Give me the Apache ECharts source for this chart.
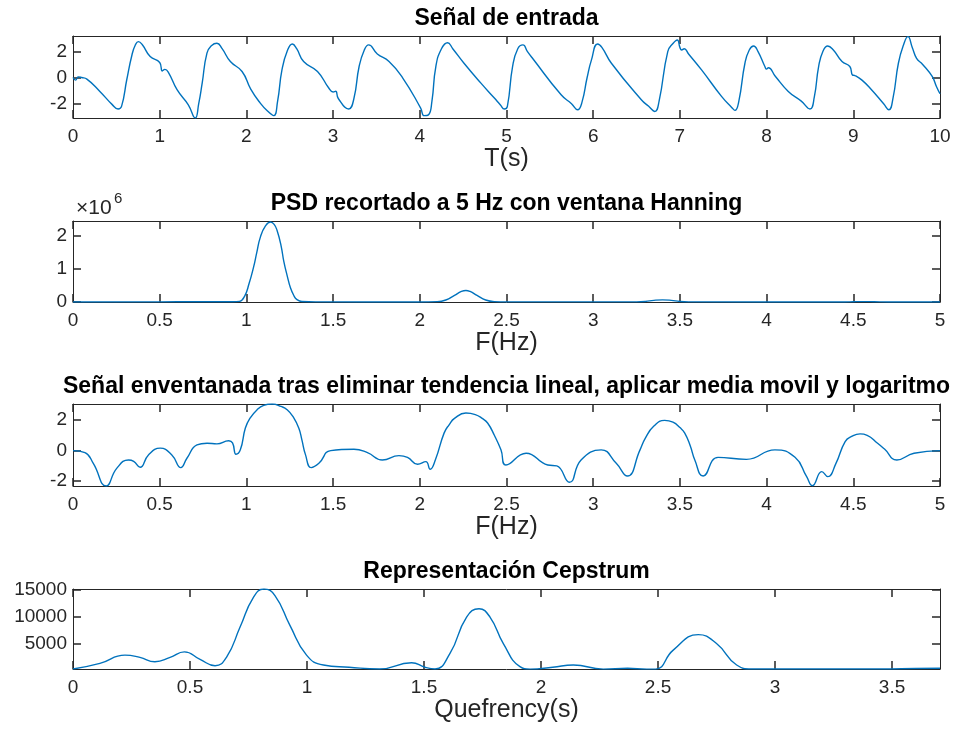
<!DOCTYPE html>
<html>
<head>
<meta charset="utf-8">
<script src="https://cdn.jsdelivr.net/npm/echarts@6/dist/echarts.min.js"></script>
<style>html,body{margin:0;padding:0;background:#fff;}#c{width:962px;height:735px;}</style>
</head>
<body>
<div id="c"></div>
<script>
// ---- Panel 1: Señal de entrada (t in s, amplitude)
const t1 = [0,0.03,0.06,0.1,0.16,0.31,0.45,0.52,0.56,0.62,0.68,0.72,0.755,0.8,0.89,1.0,1.03,1.06,1.1,1.2,1.33,1.41,1.45,1.49,1.545,1.6,1.66,1.72,1.815,1.95,2.05,2.16,2.25,2.315,2.36,2.41,2.47,2.53,2.58,2.66,2.82,2.95,3.0,3.03,3.06,3.18,3.24,3.30,3.36,3.41,3.51,3.645,3.8,4.01,4.05,4.1,4.14,4.185,4.25,4.32,4.38,4.51,4.705,4.86,4.93,4.975,5.01,5.07,5.13,5.19,5.24,5.30,5.63,5.75,5.82,5.87,5.93,5.98,6.05,6.1,6.21,6.555,6.64,6.71,6.76,6.86,6.92,6.97,7.0,7.02,7.05,7.1,7.25,7.48,7.6,7.635,7.68,7.75,7.8,7.85,7.9,7.98,8.0,8.02,8.1,8.25,8.4,8.5,8.55,8.6,8.65,8.705,8.77,8.87,8.96,8.99,9.02,9.1,9.21,9.35,9.41,9.46,9.52,9.58,9.63,9.68,9.73,9.8,9.91,9.96,10];
const s1 = [0,-0.2,0.05,0,-0.12,-1.06,-2.05,-2.4,-2.2,-0.17,1.72,2.5,2.74,2.5,1.6,1.15,0.5,0.62,0.4,-0.93,-2.08,-3.09,-2.0,-0.43,1.86,2.45,2.62,2.2,1.22,0.46,-0.88,-1.95,-2.6,-2.91,-1.8,0.58,2.0,2.56,2.2,1.22,0.46,-0.8,-1.1,-1.05,-1.6,-2.4,-1.6,0.84,2.1,2.49,1.8,1.22,0,-2.33,-2.91,-2.85,-1.8,0.84,2.2,2.66,2.2,1.09,-0.43,-1.57,-2.1,-2.4,-2.2,0.84,2.2,2.49,2.0,1.47,-1.32,-2.0,-2.46,-1.9,0,1.35,2.56,2.3,1.09,-1.7,-2.2,-2.59,-1.8,1.98,2.6,2.87,2.3,2.1,2.2,1.8,0.58,-1.44,-2.3,-2.51,-1.8,1.09,2.1,2.41,2.0,0.84,0.64,0.75,0.1,-1.06,-1.8,-2.4,-1.5,0.84,2.0,2.41,2.1,1.22,0.84,0.2,0.15,-0.2,-0.93,-2.0,-2.46,-1.5,1.09,2.5,3.12,2.3,1.47,1.0,0.08,-0.7,-1.24];
const ticksX1 = [0,1,2,3,4,5,6,7,8,9,10];
const ticksY1 = [-2,0,2];

// ---- Panel 2: PSD (F in Hz)
const f2 = [0,0.5,0.7,0.85,0.92,0.96,0.99,1.015,1.042,1.06,1.081,1.11,1.139,1.16,1.177,1.2,1.216,1.235,1.254,1.275,1.29,1.32,1.4,2.0,2.1,2.15,2.2,2.24,2.266,2.29,2.33,2.38,2.43,2.5,3.25,3.3,3.35,3.4,3.45,3.5,3.55,4.45,4.5,4.56,4.62,4.7,5];
const psd2 = [2e3,4e3,8e3,1e4,8e3,2e4,1.8e5,5.5e5,1.07e6,1.5e6,1.97e6,2.3e6,2.42e6,2.35e6,2.16e6,1.7e6,1.22e6,8e5,4.3e5,1.8e5,8e4,1.5e4,3e3,2e3,1e4,6e4,2e5,3.2e5,3.5e5,3.2e5,2e5,6e4,1e4,3e3,3e3,1.5e4,5e4,6.5e4,5e4,1.5e4,3e3,2e3,8e3,1.2e4,8e3,2e3,2e3];
const ticksX2 = [0,0.5,1,1.5,2,2.5,3,3.5,4,4.5,5];
const ticksY2 = [0,1e6,2e6];

// ---- Panel 3: Señal enventanada (F in Hz)
const f3 = [0,0.069,0.117,0.191,0.252,0.32,0.35,0.387,0.435,0.503,0.57,0.622,0.657,0.715,0.773,0.83,0.898,0.92,0.94,0.965,0.994,1.02,1.062,1.1,1.148,1.2,1.235,1.27,1.302,1.32,1.341,1.374,1.418,1.486,1.62,1.698,1.784,1.88,1.929,1.987,2.035,2.06,2.09,2.14,2.17,2.2,2.266,2.32,2.36,2.391,2.43,2.468,2.497,2.613,2.738,2.79,2.863,2.93,3.046,3.133,3.197,3.27,3.3,3.35,3.412,3.46,3.5,3.528,3.56,3.586,3.634,3.72,3.884,4.048,4.164,4.231,4.264,4.318,4.353,4.4,4.453,4.49,4.539,4.58,4.64,4.68,4.751,4.85,5];
const s3 = [0,-0.13,-0.83,-2.31,-1.16,-0.61,-0.7,-1.09,-0.28,0.16,-0.28,-1.11,-0.5,0.37,0.48,0.44,0.64,0.5,-0.24,0.05,1.47,2.1,2.67,2.95,3.04,2.88,2.67,2.2,1.47,0.7,-0.28,-1.11,-0.83,0,0.09,-0.13,-0.61,-0.33,-0.44,-0.89,-0.72,-1.22,-0.6,1.14,1.7,2.1,2.45,2.35,2.1,1.8,1.0,0.05,-0.94,-0.17,-0.94,-1.0,-2.07,-0.61,0.05,-0.83,-1.66,0.05,0.8,1.6,1.97,1.85,1.5,1.14,0.3,-0.61,-1.66,-0.44,-0.57,0.05,-0.44,-1.7,-2.29,-1.37,-1.7,-0.83,0.59,0.92,1.09,1.0,0.48,0.1,-0.61,-0.17,0];
const ticksX3 = [0,0.5,1,1.5,2,2.5,3,3.5,4,4.5,5];
const ticksY3 = [-2,0,2];

// ---- Panel 4: Cepstrum (quefrency in s)
const q4 = [0,0.115,0.222,0.286,0.35,0.415,0.476,0.543,0.607,0.657,0.714,0.771,0.816,0.863,0.927,0.998,1.07,1.18,1.31,1.447,1.504,1.547,1.611,1.682,1.735,1.782,1.839,1.91,1.953,2.05,2.138,2.266,2.37,2.452,2.49,2.565,2.672,2.75,2.836,2.9,3.2,3.45,3.6,3.705];
const c4 = [375,1410,2930,2510,1710,2510,3540,2140,980,2630,8120,13620,15150,13930,8440,2940,1110,700,380,1530,700,380,3270,9960,11490,9960,5070,800,350,700,1110,350,500,350,350,3850,6720,5070,1110,380,380,380,450,500];
const ticksX4 = [0,0.5,1,1.5,2,2.5,3,3.5];
const ticksY4 = [5000,10000,15000];

const titles = ['Señal de entrada','PSD recortado a 5 Hz con ventana Hanning','Señal enventanada tras eliminar tendencia lineal, aplicar media movil y logaritmo','Representación Cepstrum'];
const xNames = ['T(s)','F(Hz)','F(Hz)','Quefrency(s)'];

const FONT = "'Liberation Sans', Arial, Helvetica, sans-serif";
const AX = '#262626';
const LINE = '#0072BD';

const panels = [
  {x:t1, y:s1, xmin:0, xmax:10, ymin:-3.09, ymax:3.17, tx:ticksX1, ty:ticksY1, top:36, h:82, yfmt:v=>String(v)},
  {x:f2, y:psd2, xmin:0, xmax:5, ymin:0, ymax:2.45e6, tx:ticksX2, ty:ticksY2, top:221, h:81, yfmt:v=>String(Math.round(v/1e6))},
  {x:f3, y:s3, xmin:0, xmax:5, ymin:-2.31, ymax:3.04, tx:ticksX3, ty:ticksY3, top:404, h:82, yfmt:v=>String(v)},
  {x:q4, y:c4, xmin:0, xmax:3.705, ymin:370, ymax:15150, tx:ticksX4, ty:ticksY4, top:589, h:80, yfmt:v=>String(v)}
];

const grid=[], xAxis=[], yAxis=[], series=[], graphic=[];
panels.forEach((p,i)=>{
  grid.push({left:73, right:22, top:p.top, height:p.h, containLabel:false});
  const common = {type:'value', gridIndex:i, splitLine:{show:false},
    axisLine:{show:true, onZero:false, lineStyle:{color:AX, width:1}}};
  xAxis.push(Object.assign({}, common, {min:p.xmin, max:p.xmax, position:'bottom',
    axisTick:{show:true, inside:true, length:8, lineStyle:{color:AX, width:1.5}, customValues:p.tx},
    axisLabel:{show:true, customValues:p.tx, fontSize:19, color:AX, fontFamily:FONT, margin:9, formatter:v=>String(v)},
    name:xNames[i], nameLocation:'middle', nameGap:28,
    nameTextStyle:{fontSize:25, color:AX, fontFamily:FONT}}));
  xAxis.push(Object.assign({}, common, {min:p.xmin, max:p.xmax, position:'top',
    axisTick:{show:true, inside:true, length:8, lineStyle:{color:AX, width:1.5}, customValues:p.tx},
    axisLabel:{show:false}}));
  yAxis.push(Object.assign({}, common, {min:p.ymin, max:p.ymax, position:'left',
    axisTick:{show:true, inside:true, length:8, lineStyle:{color:AX, width:1.5}, customValues:p.ty},
    axisLabel:{show:true, customValues:p.ty, fontSize:19, color:AX, fontFamily:FONT, margin:6, formatter:p.yfmt}}));
  yAxis.push(Object.assign({}, common, {min:p.ymin, max:p.ymax, position:'right',
    axisTick:{show:true, inside:true, length:8, lineStyle:{color:AX, width:1.5}, customValues:p.ty},
    axisLabel:{show:false}}));
  series.push({type:'line', xAxisIndex:2*i, yAxisIndex:2*i, data:p.x.map((v,k)=>[v,p.y[k]]),
    showSymbol:false, smooth:0.5, clip:true,
    lineStyle:{color:LINE, width:1.4}, itemStyle:{color:LINE}, animation:false});
  graphic.push({type:'text', x:506.5, y:p.top-17, style:{text:titles[i], font:'bold 23px '+FONT,
    fill:'#000', align:'center', verticalAlign:'middle', textAlign:'center', textVerticalAlign:'middle'}});
});
graphic.push({type:'text', x:76, y:208, style:{text:'×10', font:'21px '+FONT, fill:AX, align:'left', verticalAlign:'middle', textAlign:'left', textVerticalAlign:'middle'}});
graphic.push({type:'text', x:114, y:199, style:{text:'6', font:'15px '+FONT, fill:AX, align:'left', verticalAlign:'middle', textAlign:'left', textVerticalAlign:'middle'}});

const chart = echarts.init(document.getElementById('c'), null, {renderer:'canvas'});
chart.setOption({animation:false, backgroundColor:'#fff', grid, xAxis, yAxis, series, graphic});
</script>
</body>
</html>
